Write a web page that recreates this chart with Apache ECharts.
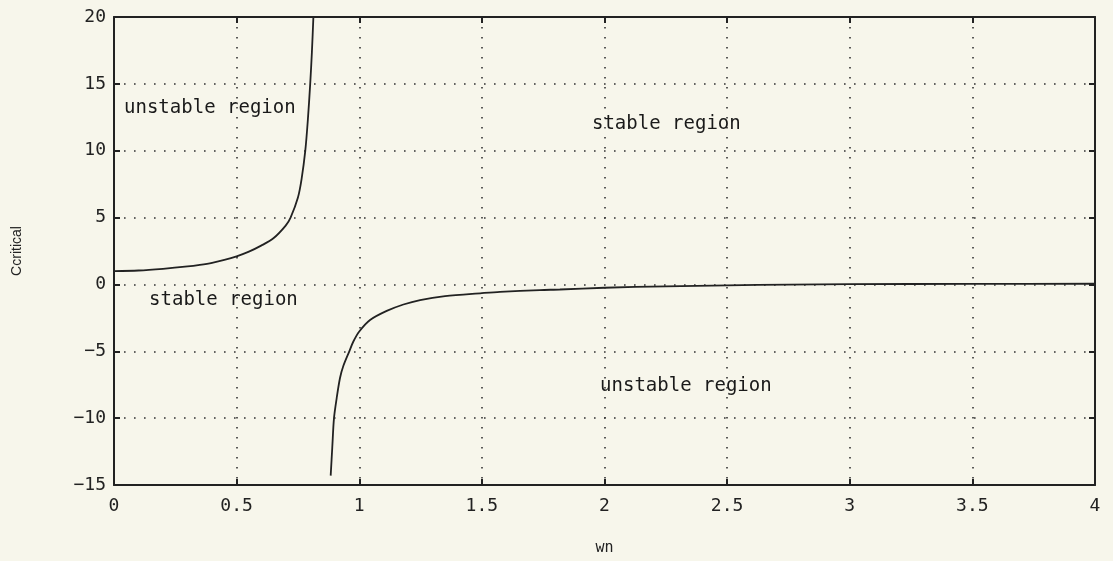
<!DOCTYPE html>
<html>
<head>
<meta charset="utf-8">
<script src="https://cdn.jsdelivr.net/npm/echarts@6/dist/echarts.min.js"></script>
<style>
html,body{margin:0;padding:0;background:#f7f6eb;}
#chart{width:1113px;height:561px;}
</style>
</head>
<body>
<div id="chart"></div>
<script>
// Upper branch (wn < pole)
const wnUpper = [0, 0.1, 0.2, 0.3, 0.35, 0.4, 0.45, 0.5, 0.55, 0.6, 0.65, 0.7, 0.72, 0.75, 0.765, 0.78, 0.79, 0.8, 0.807, 0.813];
const cUpper  = [1.0, 1.04, 1.17, 1.35, 1.47, 1.62, 1.83, 2.1, 2.45, 2.9, 3.45, 4.4, 5.0, 6.5, 7.9, 10.0, 12.2, 15.0, 17.4, 20.0];
// Lower branch (wn > pole)
const wnLower = [0.8835, 0.89, 0.897, 0.908, 0.9215, 0.935, 0.9595, 0.976, 1.0, 1.044, 1.112, 1.18, 1.248, 1.35, 1.5, 1.574, 1.737, 1.818, 2.0, 2.25, 2.5, 2.75, 3.0, 3.5, 4.0];
const cLower  = [-14.3, -12.2, -10.0, -8.5, -7.0, -6.1, -5.0, -4.27, -3.52, -2.66, -1.98, -1.5, -1.17, -0.88, -0.65, -0.55, -0.42, -0.38, -0.25, -0.14, -0.07, -0.01, 0.02, 0.04, 0.05];
// Region annotations (data coordinates of the text's left edge)
const annoText = ['unstable region', 'stable region', 'stable region', 'unstable region'];
const annoX    = [0.041, 0.143, 1.949, 1.982];
const annoY    = [13.2, -1.2, 12.0, -7.6];
// Axis settings
const xMin = 0, xMax = 4, xStep = 0.5;
const yMin = -15, yMax = 20, yStep = 5;
const xTitle = 'wn', yTitle = 'Ccritical';

const ink = '#222';
const mono = 'DejaVu Sans Mono';
const gridDots = {show:true, lineStyle:{color:'#333', width:1.6, type:[1.6, 8.4]}};

const chart = echarts.init(document.getElementById('chart'), null, {renderer:'canvas'});
const fmtNum = v => (v < 0 ? '\u2212' + String(-v) : String(v));

chart.setOption({
  backgroundColor:'#f7f6eb',
  animation:false,
  grid:{left:114, right:18, top:17, bottom:74, containLabel:false},
  xAxis:[{
    type:'value', min:xMin, max:xMax, interval:xStep, position:'bottom',
    name:xTitle, nameLocation:'middle', nameGap:56,
    nameTextStyle:{fontFamily:mono, fontSize:15, color:ink},
    axisLine:{show:true, onZero:false, lineStyle:{color:ink, width:2}},
    axisTick:{show:true, inside:true, length:6, lineStyle:{color:ink, width:2}},
    axisLabel:{fontFamily:mono, fontSize:18, color:ink, margin:12, formatter:fmtNum},
    splitLine:gridDots
  },{
    type:'value', min:xMin, max:xMax, interval:xStep, position:'top',
    axisLine:{show:true, onZero:false, lineStyle:{color:ink, width:2}},
    axisTick:{show:true, inside:true, length:6, lineStyle:{color:ink, width:2}},
    axisLabel:{show:false}, splitLine:{show:false}
  }],
  yAxis:[{
    type:'value', min:yMin, max:yMax, interval:yStep, position:'left',
    name:yTitle, nameLocation:'middle', nameGap:90, nameRotate:90,
    nameTextStyle:{fontFamily:'Liberation Sans', fontSize:14, color:ink},
    axisLine:{show:true, onZero:false, lineStyle:{color:ink, width:2}},
    axisTick:{show:true, inside:true, length:6, lineStyle:{color:ink, width:2}},
    axisLabel:{fontFamily:mono, fontSize:18, color:ink, margin:8, formatter:fmtNum},
    splitLine:gridDots
  },{
    type:'value', min:yMin, max:yMax, interval:yStep, position:'right',
    axisLine:{show:true, onZero:false, lineStyle:{color:ink, width:2}},
    axisTick:{show:true, inside:true, length:6, lineStyle:{color:ink, width:2}},
    axisLabel:{show:false}, splitLine:{show:false}
  }],
  series:[{
    type:'line', xAxisIndex:0, yAxisIndex:0, showSymbol:false, smooth:0.3,
    lineStyle:{color:ink, width:1.8}, clip:true, z:3,
    data: wnUpper.map((x,i)=>[x, cUpper[i]])
  },{
    type:'line', xAxisIndex:0, yAxisIndex:0, showSymbol:false, smooth:0.3,
    lineStyle:{color:ink, width:1.8}, clip:true, z:3,
    data: wnLower.map((x,i)=>[x, cLower[i]])
  },{
    type:'scatter', xAxisIndex:0, yAxisIndex:0, symbolSize:0, silent:true,
    itemStyle:{opacity:1},
    label:{show:true, position:'right', distance:0, fontFamily:mono, fontSize:19, color:'#1a1a1a',
      opacity:1, align:'left', verticalAlign:'middle', formatter:p => annoText[p.dataIndex]},
    data: annoX.map((x,i)=>[x, annoY[i]])
  }]
});
</script>
</body>
</html>
